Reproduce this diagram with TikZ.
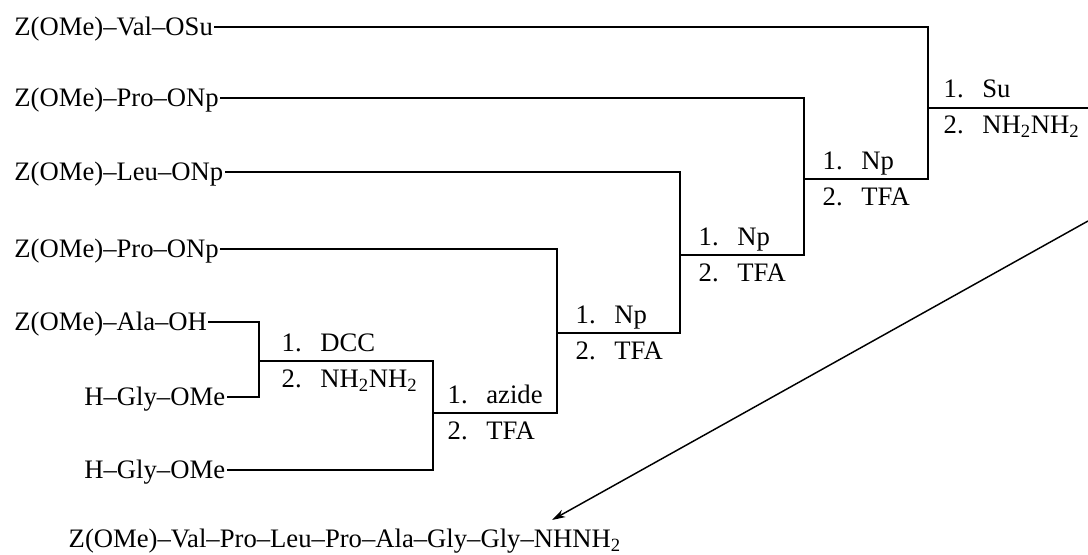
\documentclass[tikz,border=0pt]{standalone}
\usepackage{fontspec}
\setmainfont{Liberation Serif}
\usetikzlibrary{arrows.meta}

\newcommand{\stp}[2]{#1.\hspace{0.7em}#2}

\begin{document}
\begin{tikzpicture}[x=0.75pt, y=-0.75pt, line width=1.1pt,
    >={Stealth[length=10pt,width=6pt,inset=3pt]},
    every node/.style={font=\fontsize{20}{24}\selectfont},
    reag/.style={anchor=west, inner xsep=0.5pt, inner ysep=0pt, text height=12pt, text depth=0pt},
    cond/.style={anchor=base west, inner sep=0pt}]
    \useasboundingbox (0,0) rectangle (1088,554);

    % starting materials
    \node[reag] (val)  at (13,27)  {Z(OMe)--Val--OSu};
    \node[reag] (pro2) at (13,98)  {Z(OMe)--Pro--ONp};
    \node[reag] (leu)  at (13,172) {Z(OMe)--Leu--ONp};
    \node[reag] (pro4) at (13,249) {Z(OMe)--Pro--ONp};
    \node[reag] (ala)  at (13,322) {Z(OMe)--Ala--OH};
    \node[reag] (gly1) at (83,397) {H--Gly--OMe};
    \node[reag] (gly2) at (83,470) {H--Gly--OMe};

    % coupling points
    \coordinate (c1) at (259,361);
    \coordinate (c2) at (433,413);
    \coordinate (c3) at (557,333);
    \coordinate (c4) at (680,255);
    \coordinate (c5) at (804,179);
    \coordinate (c6) at (928,108);
    \coordinate (out) at (1088,108);

    \draw (ala.east) -| (c1) |- (gly1.east);
    \draw (c1) -| (c2) |- (gly2.east);
    \draw (c2) -| (c3) |- (pro4.east);
    \draw (c3) -| (c4) |- (leu.east);
    \draw (c4) -| (c5) |- (pro2.east);
    \draw (c5) -| (c6) |- (val.east);
    \draw (c6) -- (out);

    % conditions
    \node[cond] at (281,351) {\stp{1}{DCC}};
    \node[cond] at (281,387) {\stp{2}{NH\textsubscript{2}NH\textsubscript{2}}};
    \node[cond] at (447,403) {\stp{1}{azide}};
    \node[cond] at (447,439) {\stp{2}{TFA}};
    \node[cond] at (575,323) {\stp{1}{Np}};
    \node[cond] at (575,359) {\stp{2}{TFA}};
    \node[cond] at (698,245) {\stp{1}{Np}};
    \node[cond] at (698,281) {\stp{2}{TFA}};
    \node[cond] at (822,169) {\stp{1}{Np}};
    \node[cond] at (822,205) {\stp{2}{TFA}};
    \node[cond] at (943,97)  {\stp{1}{Su}};
    \node[cond] at (943,133) {\stp{2}{NH\textsubscript{2}NH\textsubscript{2}}};

    % product
    \node[cond] (prod) at (68,547) {Z(OMe)--Val--Pro--Leu--Pro--Ala--Gly--Gly--NHNH\textsubscript{2}};
    \coordinate (a0) at (1088,221);
    \coordinate (tip) at (552,520);
    \draw[->] (a0) -- (tip);
\end{tikzpicture}
\end{document}
